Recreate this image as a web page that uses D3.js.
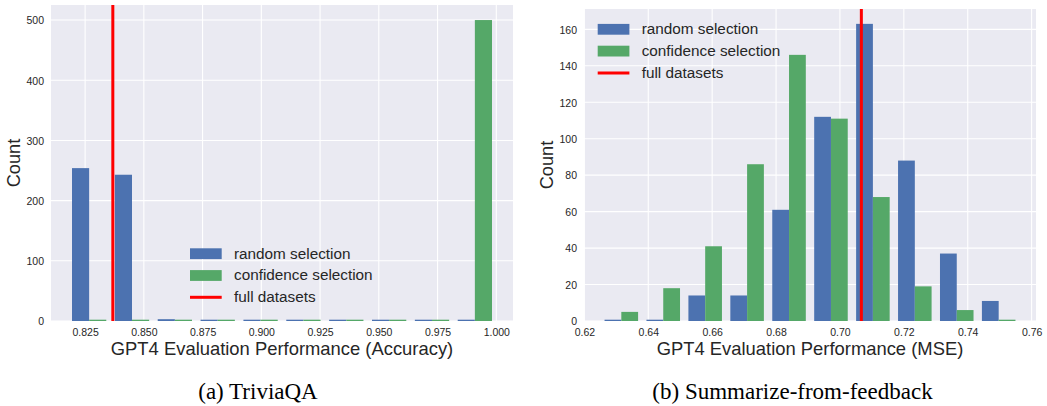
<!DOCTYPE html>
<html>
<head>
<meta charset="utf-8">
<script src="https://cdn.jsdelivr.net/npm/d3@7/dist/d3.min.js"></script>
<style>
  html, body { margin: 0; padding: 0; background: #fff; }
  svg { display: block; }
  text { font-family: "Liberation Sans", Arial, sans-serif; fill: #262626; }
  .caption { font-family: "Liberation Serif", "Times New Roman", serif; fill: #000; }
</style>
</head>
<body>
<svg id="chart" width="1047" height="406"></svg>
<script>
// ---------------- DATA ----------------
const seriesNames = ["random selection", "confidence selection", "full datasets"];

// (a) TriviaQA
const triviaBinEdges = [0.8176, 0.83584, 0.85408, 0.87232, 0.89056, 0.9088, 0.92704, 0.94528, 0.96352, 0.98176, 1.0];
const triviaRandom = [254, 243, 3, 0, 0, 0, 0, 0, 0, 0];
const triviaConfidence = [0, 0, 0, 0, 0, 0, 0, 0, 0, 500];
const triviaFull = 0.8368;
const triviaXTicks = [0.825, 0.85, 0.875, 0.9, 0.925, 0.95, 0.975, 1.0];
const triviaYTicks = [0, 100, 200, 300, 400, 500];
const triviaXLabel = "GPT4 Evaluation Performance (Accuracy)";
const triviaCaption = "(a) TriviaQA";

// (b) Summarize-from-feedback
const summBinEdges = [0.625, 0.638125, 0.65125, 0.664375, 0.6775, 0.690625, 0.70375, 0.716875, 0.73, 0.743125, 0.75625];
const summRandom = [0, 0, 14, 14, 61, 112, 163, 88, 37, 11];
const summConfidence = [5, 18, 41, 86, 146, 111, 68, 19, 6, 0];
const summFull = 0.7067;
const summXTicks = [0.62, 0.64, 0.66, 0.68, 0.70, 0.72, 0.74, 0.76];
const summYTicks = [0, 20, 40, 60, 80, 100, 120, 140, 160];
const summXLabel = "GPT4 Evaluation Performance (MSE)";
const summCaption = "(b) Summarize-from-feedback";

// ---------------- STYLE ----------------
const COLORS = { random: "#4C72B0", confidence: "#55A868", full: "#FF0000", bg: "#EAEAF2" };
const svg = d3.select("#chart");

function drawPanel(cfg) {
  const { box, edges, randomVals, confVals, fullVal, xTicks, yTicks, xFmt, xLabel, caption, captionX, legendPos, countX } = cfg;
  const g = svg.append("g");

  // bar extents -> 5% margins (matplotlib style)
  const w0 = edges[1] - edges[0];
  const lo = edges[0] + 0.1 * w0;
  const hi = edges[edges.length - 1] - 0.1 * w0;
  const pad = (hi - lo) * 0.05;
  const x = d3.scaleLinear().domain([lo - pad, hi + pad]).range([box.x0, box.x1]);
  const ymax = d3.max(randomVals.concat(confVals)) * 1.05;
  const y = d3.scaleLinear().domain([0, ymax]).range([box.y1, box.y0]);

  // background
  g.append("rect").attr("x", box.x0).attr("y", box.y0)
    .attr("width", box.x1 - box.x0).attr("height", box.y1 - box.y0).attr("fill", COLORS.bg);

  // grid
  g.append("g").selectAll("line").data(xTicks).join("line")
    .attr("x1", d => x(d)).attr("x2", d => x(d)).attr("y1", box.y0).attr("y2", box.y1)
    .attr("stroke", "#fff").attr("stroke-width", 1.1);
  g.append("g").selectAll("line").data(yTicks).join("line")
    .attr("x1", box.x0).attr("x2", box.x1).attr("y1", d => y(d)).attr("y2", d => y(d))
    .attr("stroke", "#fff").attr("stroke-width", 1.1);

  // bars
  const bins = d3.range(edges.length - 1).map(i => ({
    x0: edges[i], x1: edges[i + 1], r: randomVals[i], c: confVals[i]
  }));
  const barGroup = g.append("g");
  function barRect(sel, key, offset, color) {
    sel.append("g").selectAll("rect").data(bins).join("rect")
      .attr("x", d => x(d.x0 + (d.x1 - d.x0) * offset))
      .attr("width", d => x(d.x0 + (d.x1 - d.x0) * (offset + 0.4)) - x(d.x0 + (d.x1 - d.x0) * offset))
      .attr("y", d => Math.min(y(d[key]), y(0) - 1.3))
      .attr("height", d => Math.max(y(0) - y(d[key]), 1.3))
      .attr("fill", color);
  }
  barRect(barGroup, "r", 0.1, COLORS.random);
  barRect(barGroup, "c", 0.5, COLORS.confidence);

  // full datasets line
  g.append("line").attr("x1", x(fullVal)).attr("x2", x(fullVal))
    .attr("y1", box.y0).attr("y2", box.y1)
    .attr("stroke", COLORS.full).attr("stroke-width", 3);

  // axes (tick labels only, seaborn darkgrid)
  const xAxis = d3.axisBottom(x).tickValues(xTicks).tickFormat(xFmt).tickSize(0).tickPadding(0);
  const xa = g.append("g").attr("transform", `translate(0,${box.y1})`).call(xAxis);
  xa.select(".domain").remove();
  xa.selectAll("text").attr("dy", null).attr("y", 14.7).attr("font-size", "10.5px")
    .attr("font-family", "Liberation Sans, Arial, sans-serif").attr("fill", "#333");

  const yAxis = d3.axisLeft(y).tickValues(yTicks).tickFormat(d3.format("d")).tickSize(0).tickPadding(0);
  const ya = g.append("g").attr("transform", `translate(${box.x0},0)`).call(yAxis);
  ya.select(".domain").remove();
  ya.selectAll("text").attr("x", -7).attr("dy", "0.36em").attr("font-size", "10.5px")
    .attr("font-family", "Liberation Sans, Arial, sans-serif").attr("fill", "#333");

  // axis titles
  g.append("text").attr("x", (box.x0 + box.x1) / 2).attr("y", box.y1 + 34)
    .attr("text-anchor", "middle").attr("font-size", "18.4px").text(xLabel);
  g.append("text").attr("transform", `translate(${countX},${(box.y0 + box.y1) / 2}) rotate(-90)`)
    .attr("text-anchor", "middle").attr("font-size", "18.2px").text("Count");

  // legend
  const lg = g.append("g").attr("transform", `translate(${legendPos[0]},${legendPos[1]})`);
  const rows = [
    { name: seriesNames[0], type: "patch", color: COLORS.random },
    { name: seriesNames[1], type: "patch", color: COLORS.confidence },
    { name: seriesNames[2], type: "line", color: COLORS.full }
  ];
  const rowY = [0, 21.8, 43.6];
  rows.forEach((r, i) => {
    const cy = rowY[i];
    if (r.type === "patch") {
      lg.append("rect").attr("x", 0).attr("y", cy - 5.4).attr("width", 31.7).attr("height", 10.8).attr("fill", r.color);
    } else {
      lg.append("line").attr("x1", 0).attr("x2", 31.7).attr("y1", cy).attr("y2", cy)
        .attr("stroke", r.color).attr("stroke-width", 3);
    }
    lg.append("text").attr("x", 44).attr("y", cy + 4.8).attr("font-size", "15.3px").text(r.name);
  });

  // caption
  svg.append("text").attr("class", "caption").attr("x", captionX).attr("y", 399)
    .attr("text-anchor", "middle").attr("font-size", "23px").text(caption);
}

drawPanel({
  box: { x0: 51, x1: 513, y0: 5, y1: 321 },
  edges: triviaBinEdges, randomVals: triviaRandom, confVals: triviaConfidence, fullVal: triviaFull,
  xTicks: triviaXTicks, yTicks: triviaYTicks, xFmt: d3.format(".3f"),
  xLabel: triviaXLabel, caption: triviaCaption, captionX: 258,
  legendPos: [190, 253.7], countX: 19.7
});

drawPanel({
  box: { x0: 584, x1: 1036, y0: 9, y1: 321 },
  edges: summBinEdges, randomVals: summRandom, confVals: summConfidence, fullVal: summFull,
  xTicks: summXTicks, yTicks: summYTicks, xFmt: d3.format(".2f"),
  xLabel: summXLabel, caption: summCaption, captionX: 792.5,
  legendPos: [597.7, 29.3], countX: 552.5
});
</script>
</body>
</html>
